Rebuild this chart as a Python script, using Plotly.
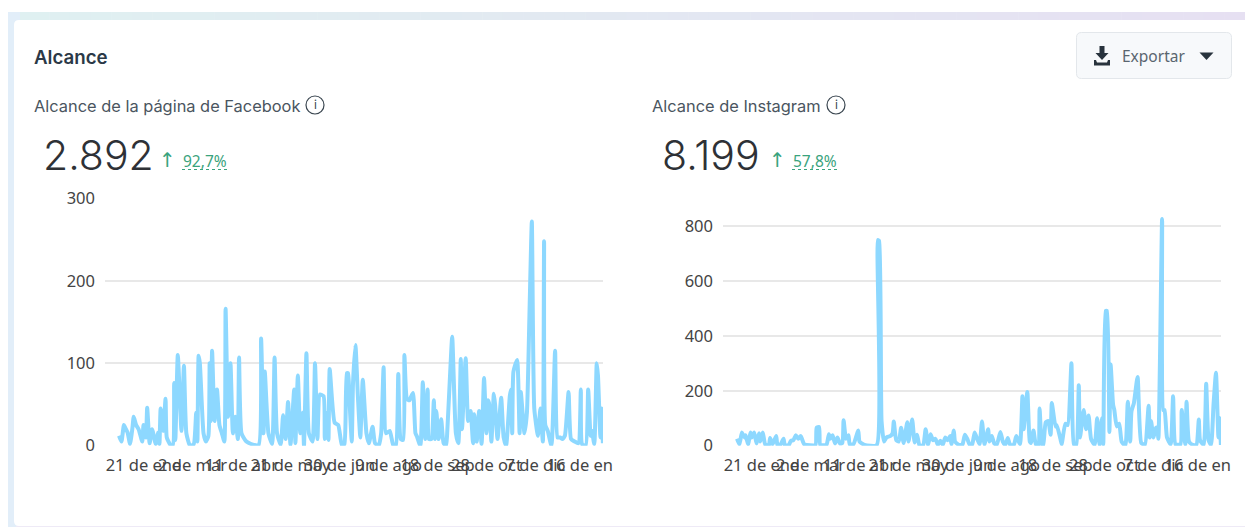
import pandas as pd
import plotly.graph_objects as go

W, H = 1245, 527
START = pd.Timestamp("2022-01-01")

tick_dates = ["2022-01-21", "2022-03-02", "2022-04-11", "2022-05-21", "2022-06-30",
              "2022-08-09", "2022-09-18", "2022-10-28", "2022-12-07", "2023-01-16"]
tick_labels = ["21 de ene", "2 de mar", "11 de abr", "21 de may", "30 de jun",
               "9 de ago", "18 de sep", "28 de oct", "7 de dic", "16 de ene"]

fb_days = [0,2,4,5,7,9,11,12,14,16,19,20,22,23,25,27,30,32,33,34,36,38,39,42,44,45,46,48,51,53,55,58,61,63,64,65,66,69,71,73,74,75,76,78,80,82,84,86,87,89,91,93,95,97,98,100,104,108,114,116,118,119,122,125,127,129,132,134,136,138,140,143,144,146,148,150,151,153,155,158,160,162,164,167,168,170,171,172,
           176,179,182,184,186,187,188,190,191,193,195,197,199,202,204,207,209,212,214,216,218,221,224,226,228,230,232,233,235,237,240,242,243,246,248,250,252,253,255,257,258,259,261,263,265,267,268,270,272,275,277,279,280,283,285,287,289,290,292,294,296,298,300,301,302,304,306,307,309,312,314,316,319,320,321,322,325,327,328,331,333,335,337,339,342,344,346,347,348,350,353,356,358,360,362,364,367,369,372,375,377,378,381,383,385,386,388,390,391,393,394,395]
fb_vals = [12,5,25,22,16,2,22,35,25,20,5,25,10,46,3,20,2,16,2,45,18,57,10,1,1,76,7,110,18,97,15,0,2,40,5,109,100,15,5,12,100,30,115,30,68,25,15,5,166,35,100,15,35,8,107,15,5,2,1,130,15,90,15,2,107,15,1,37,8,53,1,68,3,85,15,40,0,112,15,5,100,8,62,60,8,40,7,93,
           28,25,0,2,88,88,60,5,75,122,60,10,80,15,3,23,3,0,15,95,15,18,0,0,87,8,7,110,57,55,64,15,12,0,77,8,68,8,8,55,8,42,8,32,3,0,18,78,132,15,3,105,20,106,30,42,3,38,5,42,2,82,15,55,52,5,63,50,8,58,10,0,60,68,15,90,104,15,65,15,40,155,272,45,12,45,5,248,25,18,0,115,10,10,8,12,65,8,5,3,68,2,0,68,12,18,2,100,85,10,45,3]

ig_days = [0,2,4,6,7,9,11,12,14,16,18,19,21,23,26,27,29,32,33,35,38,39,42,44,46,48,50,52,55,64,65,67,68,73,75,76,78,80,82,84,86,87,89,91,92,95,99,100,104,114,115,116,118,120,122,125,127,128,130,132,134,136,139,140,143,145,147,149,152,154,156,158,160,162,164,166,168,170,172,174,175,177,178,181,
           182,184,186,188,190,192,194,196,198,200,202,205,206,208,210,212,215,217,219,221,223,226,228,231,233,234,237,239,240,242,244,246,247,249,250,252,254,256,257,260,261,264,265,268,270,273,275,277,279,280,283,285,287,289,292,294,296,298,299,301,302,304,305,307,308,310,312,314,317,319,321,322,324,327,330,333,336,337,338,340,342,343,344,347,348,349,351,354,356,358,362,363,366,367,369,372,375,377,378,381,383,385,387,389,391,393,394,395]
ig_vals = [25,5,48,30,38,5,48,30,48,8,45,15,48,5,0,28,5,35,3,0,25,3,0,18,20,38,25,35,5,3,65,68,3,3,42,25,38,8,30,8,10,93,25,38,5,5,55,15,3,2,748,745,90,15,30,35,45,88,20,15,65,10,85,15,95,12,40,0,3,60,3,42,20,25,3,18,3,30,20,35,5,55,15,3,
           3,3,40,25,3,5,48,25,5,88,5,60,15,35,8,3,50,15,3,28,3,3,35,5,180,60,195,15,10,55,5,3,135,3,3,85,90,40,155,70,75,25,5,80,75,300,5,3,220,30,130,60,110,25,3,100,3,100,5,490,490,50,295,150,130,70,80,15,0,160,15,125,155,250,10,3,145,30,90,30,65,65,25,825,130,130,30,5,180,5,5,130,5,160,15,3,3,95,20,3,225,20,3,150,265,30,100,3]

LINE = "#8dd8ff"
GRID = "#e8e8e8"
TICK = "#444444"
UI_FONT = "Noto Sans"
HEAD_FONT = "Inter"


def fx(x):
    return x / W


def fy(y):
    return 1 - y / H


def to_dates(days):
    return [START + pd.Timedelta(days=d) for d in days]


def rrect(x0, y0, x1, y1, r):
    return (f"M{fx(x0+r)},{fy(y0)} L{fx(x1-r)},{fy(y0)} Q{fx(x1)},{fy(y0)} {fx(x1)},{fy(y0+r)} "
            f"L{fx(x1)},{fy(y1-r)} Q{fx(x1)},{fy(y1)} {fx(x1-r)},{fy(y1)} "
            f"L{fx(x0+r)},{fy(y1)} Q{fx(x0)},{fy(y1)} {fx(x0)},{fy(y1-r)} "
            f"L{fx(x0)},{fy(y0+r)} Q{fx(x0)},{fy(y0)} {fx(x0+r)},{fy(y0)} Z")


def poly(points):
    return "M" + " L".join(f"{fx(x)},{fy(y)}" for x, y in points) + " Z"


def mix(a, b, t):
    return "rgb(" + ",".join(str(round(a[i] + (b[i] - a[i]) * t)) for i in range(3)) + ")"


shapes = []
# page band behind the card: gradient along the top, pale blue on the left
N = 60
for i in range(N):
    x0 = 8 + (W - 8) * i / N
    x1 = 8 + (W - 8) * (i + 1) / N + 0.5
    t = i / (N - 1)
    c = mix((223, 240, 241), (230, 224, 242), t)
    shapes.append(dict(type="rect", xref="paper", yref="paper", x0=fx(x0), x1=fx(x1), y0=fy(12), y1=fy(24),
                       fillcolor=c, line_width=0, layer="below"))
shapes.append(dict(type="rect", xref="paper", yref="paper", x0=fx(8), x1=fx(20), y0=fy(527), y1=fy(12),
                   fillcolor="#e2eef9", line_width=0, layer="below"))
shapes.append(dict(type="path", xref="paper", yref="paper", path=rrect(14, 20, 1260, 526, 5),
                   fillcolor="#ffffff", line_width=0, layer="below"))
# bottom hairline of the card
shapes.append(dict(type="line", xref="paper", yref="paper", x0=fx(16), x1=fx(W), y0=fy(526.5), y1=fy(526.5),
                   line=dict(color="#eeeaf6", width=1), layer="below"))

# export button
shapes.append(dict(type="path", xref="paper", yref="paper", path=rrect(1076.5, 32.5, 1231.5, 78.5, 5),
                   fillcolor="#f7f9fb", line=dict(color="#e3e7eb", width=1), layer="below"))
ICON = "#28333d"
shapes.append(dict(type="path", xref="paper", yref="paper",
                   path=poly([(1099.5, 46), (1104.5, 46), (1104.5, 53), (1108.5, 53), (1102, 60), (1095.5, 53), (1099.5, 53)]),
                   fillcolor=ICON, line_width=0))
shapes.append(dict(type="path", xref="paper", yref="paper",
                   path=poly([(1094, 60), (1096, 60), (1097, 62.5), (1107, 62.5), (1108, 60), (1110, 60), (1110, 65.5), (1094, 65.5)]),
                   fillcolor=ICON, line_width=0))
shapes.append(dict(type="path", xref="paper", yref="paper",
                   path=poly([(1199.5, 52.5), (1213.5, 52.5), (1206.5, 60)]),
                   fillcolor=ICON, line_width=0))

annotations = []


def text(x, y, s, size, color, weight=400, family=HEAD_FONT, anchor="left"):
    annotations.append(dict(x=fx(x), y=fy(y), xref="paper", yref="paper", text=s, showarrow=False,
                            xanchor=anchor, yanchor="middle", xshift=0, borderpad=0,
                            font=dict(size=size, color=color, family=family, weight=weight)))


text(33, 57, "Alcance", 18.7, "#2b3947", 600)
text(1121, 56, "Exportar", 15.5, "#5a656f", family=UI_FONT)

GREEN = "#3aa37d"
for x_title, title, x_icon, x_big, big, x_arrow, x_pct, pct, x_pct_end in [
    (33, "Alcance de la página de Facebook", 315, 42, "2.892", 167, 182, "92,7%", 229),
    (651, "Alcance de Instagram", 836, 661, "8.199", 777, 792, "57,8%", 839),
]:
    text(x_title, 106, title, 16.4, "#4a5560")
    shapes.append(dict(type="circle", xref="paper", yref="paper", x0=fx(x_icon - 9), x1=fx(x_icon + 9),
                       y0=fy(105 + 9), y1=fy(105 - 9), line=dict(color="#3a4650", width=1.2)))
    text(x_icon, 105, "i", 12, "#3a4650", anchor="center")
    text(x_big, 155, big, 41, "#2e3136", 300, HEAD_FONT)
    text(x_arrow, 160, "↑", 20, GREEN, family="DejaVu Sans", anchor="center")
    text(x_pct, 161, pct, 15.5, GREEN, family=UI_FONT)
    shapes.append(dict(type="line", xref="paper", yref="paper", x0=fx(x_pct), x1=fx(x_pct_end),
                       y0=fy(169.5), y1=fy(169.5), line=dict(color=GREEN, width=1, dash="dot")))

# last tick label is cut off by its container
shapes.append(dict(type="rect", xref="paper", yref="paper", x0=fx(613), x1=fx(640), y0=fy(475), y1=fy(455),
                   fillcolor="#ffffff", line_width=0, layer="above"))
shapes.append(dict(type="rect", xref="paper", yref="paper", x0=fx(1231), x1=fx(1245), y0=fy(475), y1=fy(455),
                   fillcolor="#ffffff", line_width=0, layer="above"))

LINE_STYLE = dict(color=LINE, width=4, shape="spline", smoothing=0.5)
fig = go.Figure()
fig.add_trace(go.Scatter(x=to_dates(fb_days), y=fb_vals, mode="lines", xaxis="x", yaxis="y",
                         line=LINE_STYLE, cliponaxis=False, name="Facebook", showlegend=False))
fig.add_trace(go.Scatter(x=to_dates(ig_days), y=ig_vals, mode="lines", xaxis="x2", yaxis="y2",
                         line=LINE_STYLE, cliponaxis=False, name="Instagram", showlegend=False))

range_x = [START + pd.Timedelta(days=-14 / 1.225), START + pd.Timedelta(days=484 / 1.225)]
xcommon = dict(type="date", range=range_x, showgrid=False, zeroline=False, showline=False,
               tickmode="array", tickvals=tick_dates, ticktext=tick_labels, ticks="",
               tickfont=dict(size=16.5, color=TICK, family=UI_FONT), ticklabelstandoff=8, tickangle=0,
               ticklabeloverflow="allow", automargin=False)
ycommon = dict(showgrid=True, gridcolor=GRID, gridwidth=2, zeroline=False, showline=False, ticks="",
               tickfont=dict(size=16.5, color=TICK, family=UI_FONT), ticklabelstandoff=9, automargin=False,
               domain=[fy(445.7), fy(198.3)])

fig.update_layout(
    width=W, height=H, margin=dict(l=0, r=0, t=0, b=0), autosize=False,
    paper_bgcolor="#ffffff", plot_bgcolor="rgba(0,0,0,0)", showlegend=False,
    xaxis=dict(domain=[fx(105), fx(603)], anchor="y", **xcommon),
    yaxis=dict(range=[0, 300], tickvals=[0, 100, 200, 300], anchor="x", **ycommon),
    xaxis2=dict(domain=[fx(723), fx(1221)], anchor="y2", **xcommon),
    yaxis2=dict(range=[0, 900], tickvals=[0, 200, 400, 600, 800], anchor="x2", **ycommon),
    shapes=shapes, annotations=annotations,
)

fig.write_html("out.html", config=dict(displayModeBar=False),
               post_script="document.body.style.margin='0';document.body.style.overflow='hidden';")
